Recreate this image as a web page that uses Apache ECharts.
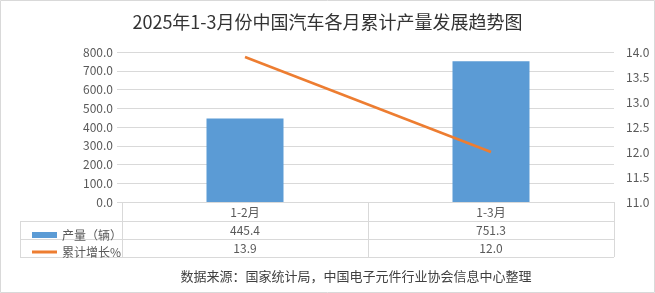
<!DOCTYPE html>
<html><head><meta charset="utf-8">
<script src="https://cdn.jsdelivr.net/npm/echarts@6/dist/echarts.min.js"></script>
<style>html,body{margin:0;padding:0;background:#fff}#c{width:655px;height:293px}</style>
</head><body><div id="c"></div>
<script>
const categories = ['1-2月', '1-3月'];
const production = [445.4, 751.3];
const growth = [13.9, 12.0];
const seriesNames = ['产量（辆）', '累计增长%'];
const titleText = '2025年1-3月份中国汽车各月累计产量发展趋势图';
const sourceText = '数据来源：国家统计局，中国电子元件行业协会信息中心整理';

const FONT = '"Noto Sans CJK SC", "Liberation Sans", sans-serif';
const gridColor = '#d9d9d9';
const txt = '#595959';
const chart = echarts.init(document.getElementById('c'));
chart.setOption({
  animation: false,
  textStyle: { fontFamily: FONT },
  title: [
    { text: titleText, left: 'center', top: 8, textStyle: { fontSize: 18, fontWeight: 'normal', color: '#333', fontFamily: FONT } }
  ],
  legend: [
    { data: [seriesNames[0]], orient: 'vertical', left: 27, top: 224, itemWidth: 25, itemHeight: 6, icon: 'rect',
      textStyle: { color: txt, fontSize: 12 }, itemGap: 0, selectedMode: false },
    { data: [seriesNames[1]], orient: 'vertical', left: 27, top: 241, itemWidth: 25, itemHeight: 3, icon: 'rect',
      textStyle: { color: txt, fontSize: 12 }, itemGap: 0, selectedMode: false }
  ],
  grid: { left: 122, right: 41, top: 52, bottom: 91 },
  xAxis: {
    type: 'category', data: categories,
    axisLine: { show: true, lineStyle: { color: gridColor } },
    axisTick: { show: true, length: 55, alignWithLabel: false, lineStyle: { color: gridColor } },
    axisLabel: {
      margin: 1, color: txt, fontSize: 12, lineHeight: 18,
      formatter: (v, i) => v + '\n' + production[i].toFixed(1) + '\n' + growth[i].toFixed(1)
    }
  },
  yAxis: [
    { type: 'value', min: 0, max: 800, interval: 100,
      axisLine: { show: false }, axisTick: { show: true, length: 5, lineStyle: { color: gridColor } },
      axisLabel: { color: txt, fontSize: 12, margin: 9, formatter: v => v.toFixed(1) },
      splitLine: { lineStyle: { color: gridColor } } },
    { type: 'value', min: 11, max: 14, interval: 0.5,
      axisLine: { show: false }, axisTick: { show: false },
      axisLabel: { color: txt, fontSize: 12, margin: 12, formatter: v => v.toFixed(1) },
      splitLine: { show: false } }
  ],
  series: [
    { name: seriesNames[0], type: 'bar', data: production, barWidth: 77, itemStyle: { color: '#5B9BD5' } },
    { name: seriesNames[1], type: 'line', yAxisIndex: 1, data: growth, showSymbol: false, symbol: 'none',
      lineStyle: { color: '#ED7D31', width: 2.5 }, itemStyle: { color: '#ED7D31' } }
  ],
  graphic: [
    { type: 'line', shape: { x1: 20, y1: 221.5, x2: 614, y2: 221.5 }, style: { stroke: gridColor, lineWidth: 1 } },
    { type: 'line', shape: { x1: 20, y1: 239.5, x2: 614, y2: 239.5 }, style: { stroke: gridColor, lineWidth: 1 } },
    { type: 'line', shape: { x1: 20, y1: 257.5, x2: 614, y2: 257.5 }, style: { stroke: gridColor, lineWidth: 1 } },
    { type: 'line', shape: { x1: 20.5, y1: 221.5, x2: 20.5, y2: 257.5 }, style: { stroke: gridColor, lineWidth: 1 } },
    { type: 'text', x: 356, y: 276, style: { text: sourceText, fill: '#404040', fontSize: 13, fontFamily: FONT, align: 'center', verticalAlign: 'middle' } },
    { type: 'rect', shape: { x: 0.5, y: 0.5, width: 654, height: 292 }, style: { fill: 'none', stroke: gridColor, lineWidth: 1 } }
  ]
});
</script></body></html>
